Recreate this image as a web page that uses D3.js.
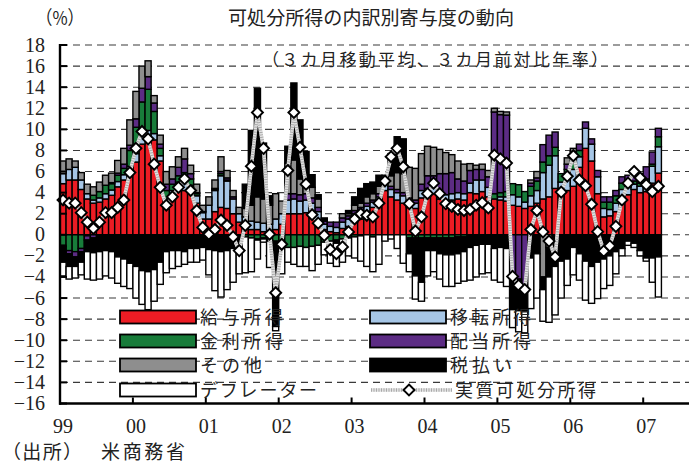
<!DOCTYPE html>
<html lang="ja">
<head>
<meta charset="utf-8">
<script src="https://cdn.jsdelivr.net/npm/d3@7"></script>
<style>
  html, body { margin: 0; padding: 0; background: #fff; }
  svg { display: block; }
  .num { font-family: "Liberation Serif", "DejaVu Serif", serif; fill: #222; }
  .jp  { font-family: "Noto Sans CJK JP", "Noto Sans", sans-serif; fill: #222; }
</style>
</head>
<body>
<svg id="chart" width="690" height="463"></svg>
<script>
// Monthly contributions (percentage points), Jan 1999 – Mar 2007
const wage = [
  4.85, 5.2, 5.2, 4.3, 3.4, 3.0, 3.1, 3.4, 3.75, 4.55, 5.2, 5.8,
  6.9, 8.6, 9.3, 9.0, 7.0, 2.6, 3.3, 4.3, 4.2, 4.1, 3.0, 1.5,
  1.5, 2.2, 2.6, 2.5, 2.0, 1.2, 0.8, 0.5, 0.5, 0.3, 0.3, 0.5,
  1.0, 2.0, 2.0, 2.0, 2.1, 2.0, 1.4, 0.5, 0.3, 0.2, 0.6, 0.8,
  1.2, 1.5, 1.8, 2.6, 3.0, 4.2, 3.6, 3.3, 3.0, 2.6, 2.5, 3.5,
  3.7, 3.9, 3.4, 3.1, 3.3, 3.4, 3.3, 4.0, 3.9, 4.1, 3.6, 3.4,
  3.3, 3.2, 2.8, 2.7, 2.5, 2.7, 3.0, 3.4, 3.6, 4.4, 3.8, 4.2,
  4.6, 6.4, 8.2, 7.0, 3.9, 1.7, 1.8, 2.2, 3.5, 3.8, 4.3, 4.0,
  4.1, 4.9, 5.85
];
const transfer = [
  0.95, 1.0, 1.2, 0.9, 0.5, 0.3, 0.4, 0.5, 0.5, 0.5, 0.5, 0.7,
  0.8, 0.8, 0.6, 0.6, 0.5, 0.8, 0.9, 0.7, 0.8, 0.6, 0.7, 0.6,
  1.3, 2.0, 3.0, 2.6, 1.4, 0.8, 0.9, 0.8, 0.7, 0.8, 0.7, 1.0,
  1.0, 1.3, 1.4, 1.2, 1.2, 1.0, 0.8, 0.5, 0.5, 0.5, 0.6, 0.7,
  0.8, 0.8, 0.9, 0.5, 0.6, 0.6, 0.7, 0.7, 0.7, 0.6, 0.5, 0.7,
  0.7, 0.7, 0.8, 0.7, 0.6, 0.6, 0.6, 0.9, 1.3, 1.1, 0.9, 0.0,
  0.3, 0.4, 1.0, 0.9, 0.6, 1.0, 1.2, 2.5, 3.0, 3.1, 1.2, 1.3,
  1.6, 1.0, 1.9, 1.6, 1.6, 0.8, 0.6, 0.8, 0.8, 0.7, 0.5, 0.6,
  0.7, 1.6, 2.5
];
const interest = [
  -1.0, -1.5, -1.6, -1.3, -0.1, 0.45, 0.6, 0.8, 0.6, 0.6, 0.6, 1.5,
  2.5, 3.2, 3.9, 2.1, 0.7, 0.8, 0.6, 0.6, 0.9, 0.6, 0.2, 0.1,
  0.0, 0.1, 0.2, 0.1, 0.0, 0.0, -0.2, -0.3, -0.4, -0.3, -0.5, -0.6,
  -0.8, -1.2, -1.2, -1.1, -1.2, -1.1, -1.0, -0.7, -0.6, -0.5, -0.4, -0.3,
  -0.2, -0.1, 0.0, -0.2, 0.0, 0.0, 0.0, 0.0, 0.0, -0.3, -0.3, -0.3,
  -0.3, -0.3, -0.3, -0.3, -0.3, -0.2, -0.2, 0.0, 0.0, 0.0, 0.0, 0.5,
  0.4, 0.5, 1.05, 1.15, 1.0, 0.9, 0.9, 1.0, 0.9, 0.8, 0.8, 0.7,
  0.6, 0.6, 0.0, 0.0, 0.0, 0.6, 0.7, 0.7, 0.6, 0.4, 0.3, 0.3,
  0.5, 0.2, 0.95
];
const dividend = [
  -0.1, -0.3, -0.5, -0.3, -0.4, -0.3, 0.0, 0.0, 0.1, 0.2, 0.4, 0.5,
  0.8, 1.3, 1.2, 0.8, 0.4, 0.6, 0.5, 0.8, 1.3, 0.5, 0.1, 0.0,
  0.0, 0.1, 0.2, 0.2, 0.2, 0.0, 0.0, 0.0, -0.1, -0.1, -0.1, 0.0,
  0.0, 0.6, 0.5, 0.6, 0.6, 0.5, 0.4, 0.3, 0.4, 0.5, 0.4, 0.3,
  0.3, 0.3, 0.3, 0.2, 0.3, 0.2, 0.3, 0.3, 0.3, 0.3, 0.3, 0.6,
  1.2, 1.0, 1.6, 2.0, 2.0, 1.3, 1.2, 1.2, 1.0, 1.0, 1.0, 7.75,
  7.4, 7.25, -3.9, -4.2, -4.9, 0.3, 0.3, 1.65, 1.95, 1.45, 0.0, 0.5,
  1.1, 0.6, 0.6, 0.5, 0.6, 0.5, 0.5, 0.5, 0.6, 0.75, 0.9, 0.9,
  1.15, 1.15, 0.8
];
const other = [
  1.2, 1.0, 0.6, 0.7, 0.9, 0.8, 0.9, 0.95, 0.9, 1.2, 1.5, 2.4,
  2.6, 2.1, 1.5, 0.7, 0.85, 1.2, 1.15, 1.0, 1.0, 0.8, 0.8, 0.6,
  0.8, 0.8, 1.4, 0.7, 0.6, 0.6, 0.8, 1.5, 2.4, 2.3, 1.8, 2.4,
  1.2, 2.9, 3.2, 1.5, 1.4, 1.0, 0.8, 0.0, 0.0, 0.0, 0.4, 0.2,
  0.5, 0.4, 0.6, 0.6, 0.7, 0.65, 1.0, 1.6, 1.8, 2.9, 3.0, 2.9,
  2.8, 2.7, 2.3, 2.0, 1.7, 1.7, 1.6, 0.65, 0.4, 0.5, 0.6, 0.35,
  0.3, 0.3, 0.0, 0.0, 0.0, 0.3, 0.6, -4.0, -1.2, 0.0, 0.0, 0.6,
  0.3, 0.0, 0.0, 0.0, 0.0, 0.0, 0.0, 0.0, 0.0, 0.0, 0.0, 0.0,
  0.0, 0.0, 0.0
];
const taxes = [
  -1.5, -1.2, -0.9, -1.0, -1.1, -1.4, -1.6, -1.5, -1.6, -2.1, -2.3, -2.7,
  -3.0, -3.4, -3.5, -3.3, -2.6, -1.6, -1.5, -1.5, -1.6, -1.3, -1.3, -1.2,
  -1.4, -1.5, -1.6, -1.5, -1.3, -1.2, 2.3, 7.1, 10.3, 5.3, 0.9, -8.1,
  0.0, 1.6, 7.3, 5.6, 2.6, 1.2, 0.4, 0.3, 0.0, -0.3, 0.0, 0.3,
  0.8, 1.4, 1.25, 1.1, 1.05, 0.0, 2.1, 3.4, 3.3, -1.5, -3.6, -4.2,
  -1.2, -1.2, -1.5, -1.6, -1.6, -1.6, -1.4, -1.2, -1.0, -0.9, -0.9, -1.3,
  -1.2, -1.3, -3.2, -3.0, -2.4, -2.2, -1.8, -1.2, -2.8, -3.0, -2.5, -2.3,
  -1.2, -1.8, -2.5, -3.0, -2.6, -2.3, -2.0, -1.6, -1.3, -0.6, -0.8, -1.5,
  -2.2, -2.2, -2.1
];
const deflator = [
  -1.3, -1.2, -1.1, -1.2, -2.6, -2.6, -2.6, -2.4, -2.5, -2.5, -2.6, -2.4,
  -3.0, -3.2, -3.6, -3.0, -2.1, -2.0, -1.7, -1.5, -1.2, -1.3, -1.3, -1.2,
  -2.4, -3.8, -4.3, -3.7, -3.2, -2.5, -3.4, -3.2, -1.8, -0.3, -2.5, -0.4,
  -2.9, -1.4, -1.6, -1.9, -1.8, -2.3, -1.8, -1.2, -2.1, -2.2, -2.2, -1.7,
  -2.0, -2.4, -3.0, -3.3, -2.8, -0.6, -0.4, -1.3, -2.7, -1.7, -2.2, -1.8,
  -2.4, -2.0, -2.4, -3.0, -3.0, -2.8, -2.8, -3.1, -3.0, -2.8, -2.7, -3.0,
  -3.3, -3.6, -1.7, -2.0, -2.0, -4.8, -4.2, -3.0, -4.3, -4.6, -3.5, -2.5,
  -2.6, -2.5, -3.7, -3.5, -3.45, -2.8, -2.8, -2.1, -0.7, -0.4, -0.4, -0.5,
  -0.3, -2.3, -3.8
];
const realDpi = [
  3.3, 3.0, 3.0, 2.1, 1.2, 0.6, 1.2, 2.1, 2.1, 2.6, 3.3, 5.9,
  8.2, 9.8, 9.1, 6.7, 4.5, 2.8, 3.6, 4.5, 5.3, 4.2, 2.3, 0.7,
  0.05, 0.5, 1.4, 0.9, -0.2, -1.5, 0.9, 6.5, 11.6, 8.2, 0.05, -5.5,
  -0.9, 6.1, 11.6, 8.3, 4.8, 1.9, 1.1, -0.05, -1.4, -1.8, -1.15, 0.27,
  1.5, 2.0, 1.85, 1.7, 3.0, 5.1, 7.4, 8.2, 6.45, 2.95, 0.35, 1.7,
  3.9, 4.9, 3.9, 2.95, 2.7, 2.4, 2.3, 2.4, 2.8, 3.05, 2.55, 7.55,
  7.2, 6.8, -3.95, -4.8, -5.2, 0.5, 2.3, 0.27, -0.6, -2.1, 4.05, 5.55,
  7.5, 5.2, 4.65, 2.9, 0.3, -1.55, -1.05, 0.8, 3.3, 4.9, 6.0, 5.4,
  4.75, 4.1, 4.6
];

const yearLabels = ["99", "00", "01", "02", "03", "04", "05", "06", "07"];
const yTickValues = [18, 16, 14, 12, 10, 8, 6, 4, 2, 0, -2, -4, -6, -8, -10, -12, -14, -16];

const seriesKeys = ["wage", "transfer", "interest", "dividend", "other", "taxes", "deflator"];
const seriesNames = {
  wage: "給与所得", transfer: "移転所得", interest: "金利所得", dividend: "配当所得",
  other: "その他", taxes: "税払い", deflator: "デフレーター"
};
const colors = {
  wage: "#ec1c24", transfer: "#a6c6e6", interest: "#187c3a", dividend: "#5c2c84",
  other: "#8e8e8e", taxes: "#000000", deflator: "#ffffff"
};

const table = wage.map((_, i) => ({
  i, wage: wage[i], transfer: transfer[i], interest: interest[i], dividend: dividend[i],
  other: other[i], taxes: taxes[i], deflator: deflator[i]
}));

const svg = d3.select("#chart");
const axisSlots = 104;             // axis runs a little past the last month
const x = d3.scaleBand().domain(d3.range(axisSlots)).range([60, 60 + axisSlots * 6.075]).padding(0);
const y = d3.scaleLinear().domain([-16, 18]).range([403.5, 45]);
const bw = x.bandwidth();
const xRight = 689;

// dashed gridlines
svg.append("g").selectAll("line")
  .data(yTickValues.filter(v => v > -16))
  .join("line")
  .attr("x1", 61).attr("x2", xRight)
  .attr("y1", d => y(d)).attr("y2", d => y(d))
  .attr("stroke", "#3a3a3a").attr("stroke-width", 1.1)
  .attr("stroke-dasharray", "7,5");

// stacked contribution bars
const stacked = d3.stack().keys(seriesKeys).offset(d3.stackOffsetDiverging)(table);
const barG = svg.append("g");
stacked.forEach(layer => {
  barG.append("g")
    .attr("fill", colors[layer.key])
    .attr("stroke", "#000").attr("stroke-width", 1.4)
    .selectAll("rect")
    .data(layer.filter(d => Math.abs(d[1] - d[0]) > 1e-9))
    .join("rect")
    .attr("x", d => x(d.data.i))
    .attr("width", bw)
    .attr("y", d => y(Math.max(d[0], d[1])))
    .attr("height", d => Math.abs(y(d[0]) - y(d[1])));
});

// real disposable income line (light stippled band)
const line = d3.line().x((d, i) => x(i) + bw / 2).y(d => y(d));
svg.append("path").datum(realDpi)
  .attr("d", line).attr("fill", "none")
  .attr("stroke", "#e2e2e2").attr("stroke-width", 3.6);
svg.append("path").datum(realDpi)
  .attr("d", line).attr("fill", "none")
  .attr("stroke", "#a9a9a9").attr("stroke-width", 3.6)
  .attr("stroke-dasharray", "1,1.5");

const diamond = "M0,-5.5L5.5,0L0,5.5L-5.5,0Z";
svg.append("g").selectAll("path")
  .data(realDpi)
  .join("path")
  .attr("d", diamond)
  .attr("transform", (d, i) => `translate(${x(i) + bw / 2},${y(d)})`)
  .attr("fill", "#fff").attr("stroke", "#000").attr("stroke-width", 1.9);

// axes
const axisG = svg.append("g");
axisG.append("line").attr("x1", 60).attr("x2", 60).attr("y1", y(18) - 1).attr("y2", y(-16) + 1.2)
  .attr("stroke", "#000").attr("stroke-width", 2.4);
axisG.append("line").attr("x1", 59).attr("x2", xRight).attr("y1", y(-16)).attr("y2", y(-16))
  .attr("stroke", "#000").attr("stroke-width", 2.4);
axisG.selectAll(".ytick").data(yTickValues).join("line")
  .attr("x1", 60).attr("x2", 67)
  .attr("y1", d => y(d)).attr("y2", d => y(d))
  .attr("stroke", "#000").attr("stroke-width", 2);
axisG.selectAll(".xtick").data(yearLabels.slice(1)).join("line")
  .attr("x1", (d, k) => x((k + 1) * 12)).attr("x2", (d, k) => x((k + 1) * 12))
  .attr("y1", y(-16)).attr("y2", y(-16) - 6)
  .attr("stroke", "#000").attr("stroke-width", 2);

const fmt = v => (v < 0 ? "\u2212" : "") + Math.abs(v);
svg.append("g").selectAll("text").data(yTickValues).join("text")
  .attr("class", "num")
  .attr("x", 45).attr("y", d => y(d) + 6.5)
  .attr("text-anchor", "end")
  .attr("font-size", 20)
  .text(fmt);

svg.append("g").selectAll("text").data(yearLabels).join("text")
  .attr("class", "num")
  .attr("x", (d, k) => x(k * 12) + 3).attr("y", 433)
  .attr("text-anchor", "middle")
  .attr("font-size", 20)
  .text(d => d);

// titles
svg.append("text").attr("class", "jp").attr("x", 228).attr("y", 25)
  .attr("font-size", 19).attr("textLength", 286).attr("lengthAdjust", "spacingAndGlyphs")
  .text("可処分所得の内訳別寄与度の動向");
svg.append("text").attr("class", "jp").attr("x", 262).attr("y", 66)
  .attr("font-size", 17).attr("textLength", 346).attr("lengthAdjust", "spacing")
  .text("（３カ月移動平均、３カ月前対比年率）");
svg.append("text").attr("class", "jp").attr("x", 36).attr("y", 25)
  .attr("font-size", 19).attr("textLength", 48).attr("lengthAdjust", "spacingAndGlyphs")
  .text("（%）");

// source note
svg.append("text").attr("class", "jp").attr("x", 2).attr("y", 459)
  .attr("font-size", 19).attr("textLength", 80).attr("lengthAdjust", "spacing")
  .text("（出所）");
svg.append("text").attr("class", "jp").attr("x", 101).attr("y", 459)
  .attr("font-size", 19).attr("textLength", 84).attr("lengthAdjust", "spacing")
  .text("米商務省");

// legend
const legendItems = [
  { key: "wage", col: 0, row: 0, w: 83 },
  { key: "transfer", col: 1, row: 0, w: 81 },
  { key: "interest", col: 0, row: 1, w: 83 },
  { key: "dividend", col: 1, row: 1, w: 81 },
  { key: "other", col: 0, row: 2, w: 62 },
  { key: "taxes", col: 1, row: 2, w: 62 },
  { key: "deflator", col: 0, row: 3, w: 117 }
];
const rowY = [317, 341, 365, 390];
const colX = [120, 370];
const legG = svg.append("g");
legendItems.forEach(it => {
  const cy = rowY[it.row];
  legG.append("rect")
    .attr("x", colX[it.col]).attr("y", cy - 6.5)
    .attr("width", 76).attr("height", 13)
    .attr("fill", colors[it.key]).attr("stroke", "#000").attr("stroke-width", 1.8);
  legG.append("text").attr("class", "jp")
    .attr("x", colX[it.col] + 80).attr("y", cy + 6.5)
    .attr("font-size", 18).attr("textLength", it.w).attr("lengthAdjust", "spacing")
    .text(seriesNames[it.key]);
});
const ly = rowY[3];
legG.append("line").attr("x1", 371).attr("x2", 452).attr("y1", ly).attr("y2", ly)
  .attr("stroke", "#e2e2e2").attr("stroke-width", 3.6);
legG.append("line").attr("x1", 371).attr("x2", 452).attr("y1", ly).attr("y2", ly)
  .attr("stroke", "#a9a9a9").attr("stroke-width", 3.6).attr("stroke-dasharray", "1,1.5");
legG.append("path").attr("d", diamond).attr("transform", `translate(409,${ly})`)
  .attr("fill", "#fff").attr("stroke", "#000").attr("stroke-width", 1.9);
legG.append("text").attr("class", "jp")
  .attr("x", 455).attr("y", ly + 6.5)
  .attr("font-size", 18).attr("textLength", 141).attr("lengthAdjust", "spacing")
  .text("実質可処分所得");
</script>
</body>
</html>
